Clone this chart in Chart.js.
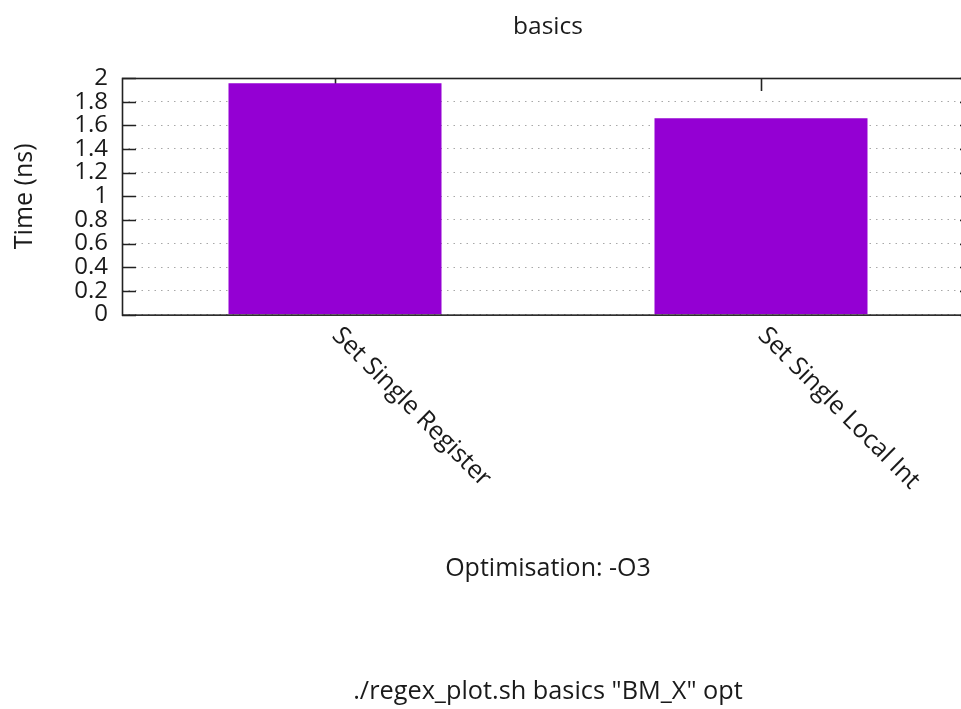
<!DOCTYPE html>
<html>
<head>
<meta charset="utf-8">
<script src="https://cdn.jsdelivr.net/npm/chart.js@4"></script>
<style>
  html, body { margin: 0; padding: 0; overflow: hidden; background: #fff; }
  #wrap { width: 980px; height: 709px; position: relative; }
</style>
</head>
<body>
<div id="wrap"><canvas id="c"></canvas></div>
<script>
const categories = ["Set Single Register", "Set Single Local Int"];
const timeValues = [1.955, 1.66];
const yTicks = [0, 0.2, 0.4, 0.6, 0.8, 1, 1.2, 1.4, 1.6, 1.8, 2];
const chartTitle = "basics";
const yTitle = "Time (ns)";
const xTitle = "Optimisation: -O3";
const footer = './regex_plot.sh basics "BM_X" opt';

const FONT = "'Open Sans', 'Noto Sans', sans-serif";
const TEXT = "#1a1a1a";

const framePlugin = {
  id: 'frame',
  beforeDatasetsDraw(chart) {
    const {ctx, chartArea: a, scales} = chart;
    ctx.save();
    ctx.strokeStyle = '#222';
    ctx.lineWidth = 1.6;
    categories.forEach((c, i) => {
      const x = Math.round(scales.x.getPixelForValue(i)) + 0.5;
      ctx.beginPath();
      ctx.moveTo(x, a.top); ctx.lineTo(x, a.top + 13);
      ctx.stroke();
    });
    ctx.restore();
  },
  afterDatasetsDraw(chart) {
    const {ctx, chartArea: a, scales} = chart;
    ctx.save();
    ctx.strokeStyle = '#222';
    ctx.lineWidth = 1.6;
    yTicks.forEach(v => {
      const y = Math.round(scales.y.getPixelForValue(v)) + 0.5;
      ctx.beginPath();
      ctx.moveTo(a.left, y); ctx.lineTo(a.left + 14, y);
      ctx.moveTo(a.right, y); ctx.lineTo(a.right - 14, y);
      ctx.stroke();
    });
    ctx.strokeRect(a.left + 0.5, a.top + 0.5, a.right - a.left, a.bottom - a.top);
    ctx.fillStyle = TEXT;
    ctx.font = "25px " + FONT;
    ctx.textAlign = 'left';
    ctx.textBaseline = 'middle';
    categories.forEach((c, i) => {
      const x = scales.x.getPixelForValue(i);
      ctx.save();
      ctx.translate(x + 1, a.bottom + 17);
      ctx.rotate(Math.PI / 4);
      ctx.fillText(c, 0, 0);
      ctx.restore();
    });
    ctx.restore();
  }
};

new Chart(document.getElementById('c'), {
  type: 'bar',
  data: {
    labels: categories,
    datasets: [{
      data: timeValues,
      backgroundColor: '#9400D3',
      borderWidth: 0,
      categoryPercentage: 1.0,
      barPercentage: 0.5
    }]
  },
  options: {
    responsive: true,
    maintainAspectRatio: false,
    animation: false,
    devicePixelRatio: 1,
    layout: { padding: { left: 0, right: 6, top: 0, bottom: 0 } },
    plugins: {
      legend: { display: false },
      tooltip: { enabled: false },
      title: {
        display: true,
        text: chartTitle,
        fullSize: false,
        color: TEXT,
        font: { family: FONT, size: 24.5, weight: 'normal', lineHeight: 1.2 },
        padding: { top: 12.8, bottom: 35.8 }
      },
      subtitle: {
        display: true,
        position: 'bottom',
        text: footer,
        fullSize: false,
        color: TEXT,
        font: { family: FONT, size: 25.3, weight: 'normal', lineHeight: 1.2 },
        padding: { top: 10, bottom: 2.5 }
      }
    },
    scales: {
      x: {
        grid: { display: false, drawTicks: false },
        border: { display: false },
        ticks: { display: false },
        afterFit(s) { s.height = 351.5; },
        title: {
          display: true,
          text: xTitle,
          color: TEXT,
          font: { family: FONT, size: 25, lineHeight: 1.2 },
          padding: { top: 0, bottom: 82.5 }
        }
      },
      y: {
        min: 0, max: 2,
        afterBuildTicks(s) { s.ticks = yTicks.map(v => ({ value: v })); },
        afterFit(s) { s.width = 122; },
        border: { display: false, dash: [1.5, 5] },
        grid: {
          drawTicks: false,
          color: '#a8a8a8',
          lineWidth: 1
        },
        ticks: {
          autoSkip: false,
          padding: 14,
          color: TEXT,
          font: { family: FONT, size: 24 },
          callback: v => String(v)
        },
        title: {
          display: true,
          text: yTitle,
          color: TEXT,
          font: { family: FONT, size: 25, lineHeight: 1.2 },
          padding: { top: 10, bottom: 0 }
        }
      }
    }
  },
  plugins: [framePlugin]
});
</script>
</body>
</html>
